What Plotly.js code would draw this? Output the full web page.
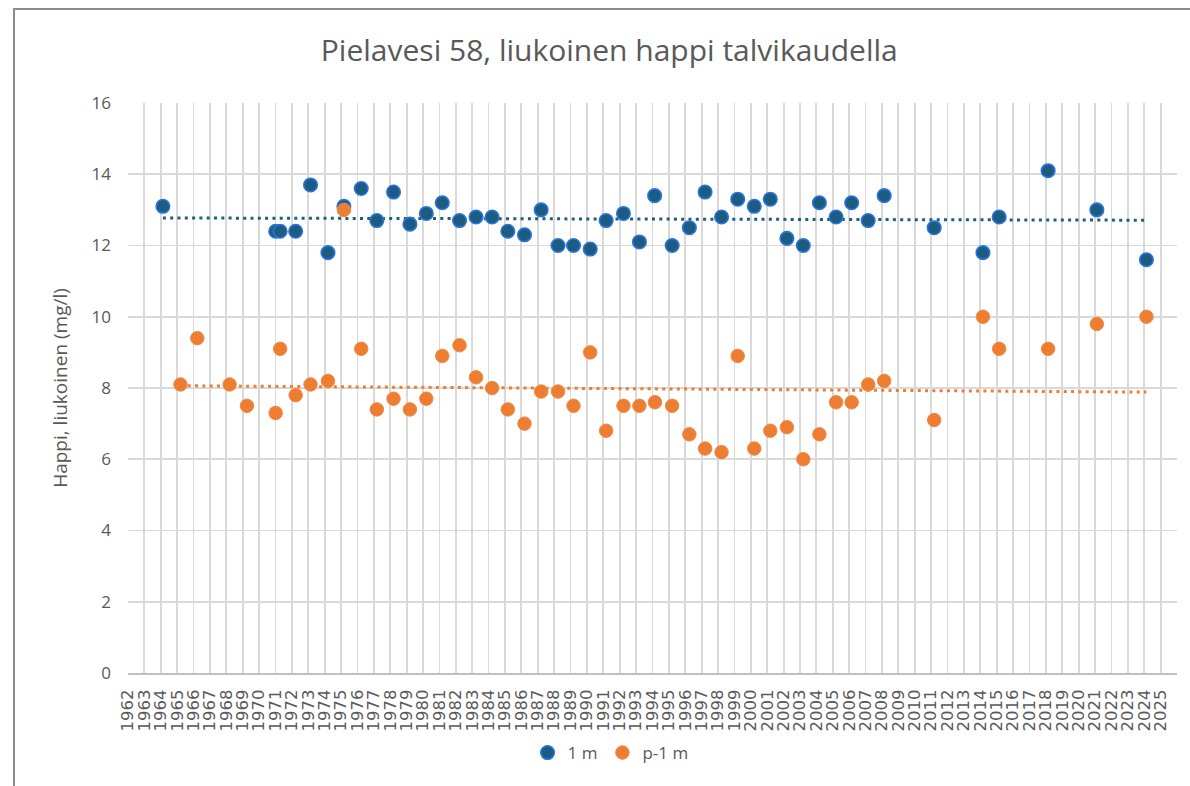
<!DOCTYPE html>
<html>
<head>
<meta charset="utf-8">
<script src="https://cdn.plot.ly/plotly-3.0.1.min.js"></script>
<style>
  html, body { margin: 0; padding: 0; background: #ffffff; }
  #chart { width: 1190px; height: 786px; }
  #frame { position: absolute; left: 13px; top: 8px; width: 1300px; height: 900px;
           border-left: 2px solid #8c8c8c; border-top: 2px solid #8c8c8c; pointer-events: none; }
</style>
</head>
<body>
<div id="chart"></div>
<div id="frame"></div>
<script>
// ---- data ----
const seriesNames = ["1 m", "p-1 m"];

const dates1m = ["1964-02-18","1971-01-05","1971-04-15","1972-03-25","1973-02-20","1974-03-15","1975-03-05","1976-03-25","1977-03-08","1978-03-15",
  "1979-03-15","1980-03-15","1981-03-05","1982-03-25","1983-03-28","1984-03-20","1985-03-05","1986-03-12","1987-03-18","1988-03-28",
  "1989-03-08","1990-03-15","1991-03-05","1992-03-25","1993-03-15","1994-02-18","1995-03-15","1996-04-01","1997-03-18","1998-03-20",
  "1999-03-15","2000-03-18","2001-03-10","2002-03-15","2003-03-15","2004-03-08","2005-03-15","2006-02-25","2007-02-28","2008-02-20",
  "2011-03-10","2014-03-01","2015-02-25","2018-02-20","2021-02-10","2024-02-20"];
const values1m = [13.1,12.4,12.4,12.4,13.7,11.8,13.1,13.6,12.7,13.5,
  12.6,12.9,13.2,12.7,12.8,12.8,12.4,12.3,13.0,12.0,
  12.0,11.9,12.7,12.9,12.1,13.4,12.0,12.5,13.5,12.8,
  13.3,13.1,13.3,12.2,12.0,13.2,12.8,13.2,12.7,13.4,
  12.5,11.8,12.8,14.1,13.0,11.6];

const datesP1m = ["1965-03-15","1966-03-25","1968-03-15","1969-04-05","1971-01-05","1971-04-15","1972-03-25","1973-02-20","1974-03-15","1975-03-05",
  "1976-03-25","1977-03-08","1978-03-15","1979-03-15","1980-03-15","1981-03-05","1982-03-25","1983-03-28","1984-03-20","1985-03-05",
  "1986-03-12","1987-03-18","1988-03-28","1989-03-08","1990-03-15","1991-03-05","1992-03-25","1993-03-15","1994-02-25","1995-03-15",
  "1996-04-01","1997-03-18","1998-03-20","1999-03-15","2000-03-18","2001-03-10","2002-03-15","2003-03-15","2004-03-08","2005-03-15",
  "2006-02-25","2007-02-28","2008-02-20","2011-03-10","2014-03-01","2015-02-25","2018-02-20","2021-02-10","2024-02-20"];
const valuesP1m = [8.1,9.4,8.1,7.5,7.3,9.1,7.8,8.1,8.2,13.0,
  9.1,7.4,7.7,7.4,7.7,8.9,9.2,8.3,8.0,7.4,
  7.0,7.9,7.9,7.5,9.0,6.8,7.5,7.5,7.6,7.5,
  6.7,6.3,6.2,8.9,6.3,6.8,6.9,6.0,6.7,7.6,
  7.6,8.1,8.2,7.1,10.0,9.1,9.1,9.8,10.0];

const tickYears = [];
for (let y = 1962; y <= 2025; y++) tickYears.push(y);

// ---- linear trend (least squares on time) ----
function trend(dates, vals) {
  const xs = dates.map(d => new Date(d + "T00:00:00Z").getTime());
  const n = xs.length;
  const mx = xs.reduce((a, b) => a + b, 0) / n;
  const my = vals.reduce((a, b) => a + b, 0) / n;
  let sxy = 0, sxx = 0;
  for (let i = 0; i < n; i++) { sxy += (xs[i] - mx) * (vals[i] - my); sxx += (xs[i] - mx) ** 2; }
  const b = sxy / sxx, a = my - b * mx;
  const x0 = Math.min(...xs), x1 = Math.max(...xs);
  const toStr = t => new Date(t).toISOString().slice(0, 10);
  return { x: [toStr(x0), toStr(x1)], y: [a + b * x0, a + b * x1] };
}

const t1 = trend(dates1m, values1m);
const t2 = trend(datesP1m, valuesP1m);

const BLUE_FILL = "#1c5c82", BLUE_LINE = "#2a74dc", TEAL = "#1f5f7a";
const ORANGE = "#ed7d31";
const FONT = "'Open Sans', Lato, sans-serif";

const traces = [
  { x: t1.x, y: t1.y, type: "scatter", mode: "lines", showlegend: false, hoverinfo: "skip",
    line: { color: TEAL, width: 3, dash: "3px,4.3px" } },
  { x: t2.x, y: t2.y, type: "scatter", mode: "lines", showlegend: false, hoverinfo: "skip",
    line: { color: ORANGE, width: 3, dash: "3px,4.3px" } },
  { x: dates1m, y: values1m, type: "scatter", mode: "markers", name: seriesNames[0],
    marker: { size: 13.5, color: BLUE_FILL, line: { color: BLUE_LINE, width: 1.6 } } },
  { x: datesP1m, y: valuesP1m, type: "scatter", mode: "markers", name: seriesNames[1],
    marker: { size: 13.5, color: ORANGE, line: { color: "#f08a4a", width: 1 } } }
];

const layout = {
  width: 1190, height: 786,
  paper_bgcolor: "rgba(0,0,0,0)", plot_bgcolor: "#ffffff",
  margin: { l: 128, r: 13, t: 103, b: 113, autoexpand: false },
  font: { family: FONT, color: "#595959" },
  title: { text: "Pielavesi 58, liukoinen happi talvikaudella", x: 0.512, xref: "container",
           y: 1 - 50 / 786, yref: "container", yanchor: "middle",
           font: { family: FONT, size: 30, color: "#595959" } },
  xaxis: {
    type: "date",
    range: ["1962-01-01", "2026-01-01"],
    tickmode: "array",
    tickvals: tickYears.map(y => y + "-01-01"),
    ticktext: tickYears.map(String),
    tickangle: -90,
    tickfont: { family: "DejaVu Sans, sans-serif", size: 16.5, color: "#595959" },
    showgrid: true, gridcolor: "#d9d9d9", gridwidth: 1.8,
    showline: true, linecolor: "#bfbfbf", linewidth: 2,
    ticks: "", ticklabelstandoff: 8, automargin: false,
    zeroline: false, fixedrange: true
  },
  yaxis: {
    range: [0, 16], dtick: 2, tick0: 0,
    tickfont: { family: FONT, size: 17, color: "#595959" },
    showgrid: true, gridcolor: "#d9d9d9", gridwidth: 1.8,
    showline: false, zeroline: false, ticks: "", ticklabelstandoff: 16, automargin: false,
    title: { text: "Happi, liukoinen (mg/l)", standoff: 18,
             font: { family: FONT, size: 19, color: "#595959" } },
    fixedrange: true
  },
  legend: {
    orientation: "h", x: 0.46, xanchor: "center", y: 1 - 753 / 786, yref: "container", yanchor: "middle",
    font: { family: FONT, size: 17, color: "#595959" },
    itemwidth: 30, traceorder: "normal", bgcolor: "rgba(0,0,0,0)"
  },
  showlegend: true
};

Plotly.newPlot("chart", traces, layout, { displayModeBar: false, staticPlot: true });
</script>
</body>
</html>
